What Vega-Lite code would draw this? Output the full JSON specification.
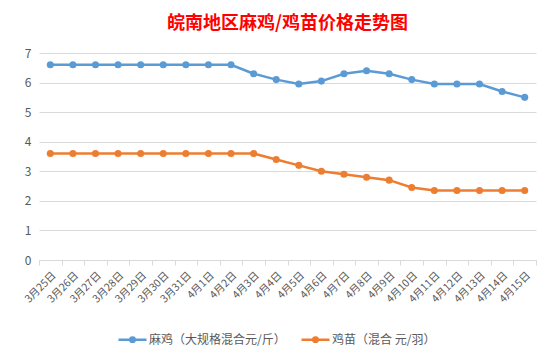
{
  "$schema": "https://vega.github.io/schema/vega-lite/v6.json",
  "width": 497,
  "height": 207,
  "autosize": "none",
  "padding": {"left": 39, "top": 53, "right": 16, "bottom": 91},
  "background": "white",
  "title": {
    "text": "皖南地区麻鸡/鸡苗价格走势图",
    "font": "Noto Sans CJK SC",
    "fontSize": 18,
    "fontWeight": "bold",
    "color": "#FF0000",
    "anchor": "middle",
    "offset": 14
  },
  "data": {
    "values": [
      {"date": "3月25日", "series": "麻鸡（大规格混合元/斤）", "value": 6.6},
      {"date": "3月26日", "series": "麻鸡（大规格混合元/斤）", "value": 6.6},
      {"date": "3月27日", "series": "麻鸡（大规格混合元/斤）", "value": 6.6},
      {"date": "3月28日", "series": "麻鸡（大规格混合元/斤）", "value": 6.6},
      {"date": "3月29日", "series": "麻鸡（大规格混合元/斤）", "value": 6.6},
      {"date": "3月30日", "series": "麻鸡（大规格混合元/斤）", "value": 6.6},
      {"date": "3月31日", "series": "麻鸡（大规格混合元/斤）", "value": 6.6},
      {"date": "4月1日", "series": "麻鸡（大规格混合元/斤）", "value": 6.6},
      {"date": "4月2日", "series": "麻鸡（大规格混合元/斤）", "value": 6.6},
      {"date": "4月3日", "series": "麻鸡（大规格混合元/斤）", "value": 6.3},
      {"date": "4月4日", "series": "麻鸡（大规格混合元/斤）", "value": 6.1},
      {"date": "4月5日", "series": "麻鸡（大规格混合元/斤）", "value": 5.95},
      {"date": "4月6日", "series": "麻鸡（大规格混合元/斤）", "value": 6.05},
      {"date": "4月7日", "series": "麻鸡（大规格混合元/斤）", "value": 6.3},
      {"date": "4月8日", "series": "麻鸡（大规格混合元/斤）", "value": 6.4},
      {"date": "4月9日", "series": "麻鸡（大规格混合元/斤）", "value": 6.3},
      {"date": "4月10日", "series": "麻鸡（大规格混合元/斤）", "value": 6.1},
      {"date": "4月11日", "series": "麻鸡（大规格混合元/斤）", "value": 5.95},
      {"date": "4月12日", "series": "麻鸡（大规格混合元/斤）", "value": 5.95},
      {"date": "4月13日", "series": "麻鸡（大规格混合元/斤）", "value": 5.95},
      {"date": "4月14日", "series": "麻鸡（大规格混合元/斤）", "value": 5.7},
      {"date": "4月15日", "series": "麻鸡（大规格混合元/斤）", "value": 5.5},
      {"date": "3月25日", "series": "鸡苗（混合 元/羽）", "value": 3.6},
      {"date": "3月26日", "series": "鸡苗（混合 元/羽）", "value": 3.6},
      {"date": "3月27日", "series": "鸡苗（混合 元/羽）", "value": 3.6},
      {"date": "3月28日", "series": "鸡苗（混合 元/羽）", "value": 3.6},
      {"date": "3月29日", "series": "鸡苗（混合 元/羽）", "value": 3.6},
      {"date": "3月30日", "series": "鸡苗（混合 元/羽）", "value": 3.6},
      {"date": "3月31日", "series": "鸡苗（混合 元/羽）", "value": 3.6},
      {"date": "4月1日", "series": "鸡苗（混合 元/羽）", "value": 3.6},
      {"date": "4月2日", "series": "鸡苗（混合 元/羽）", "value": 3.6},
      {"date": "4月3日", "series": "鸡苗（混合 元/羽）", "value": 3.6},
      {"date": "4月4日", "series": "鸡苗（混合 元/羽）", "value": 3.4},
      {"date": "4月5日", "series": "鸡苗（混合 元/羽）", "value": 3.2},
      {"date": "4月6日", "series": "鸡苗（混合 元/羽）", "value": 3.0},
      {"date": "4月7日", "series": "鸡苗（混合 元/羽）", "value": 2.9},
      {"date": "4月8日", "series": "鸡苗（混合 元/羽）", "value": 2.8},
      {"date": "4月9日", "series": "鸡苗（混合 元/羽）", "value": 2.7},
      {"date": "4月10日", "series": "鸡苗（混合 元/羽）", "value": 2.45},
      {"date": "4月11日", "series": "鸡苗（混合 元/羽）", "value": 2.35},
      {"date": "4月12日", "series": "鸡苗（混合 元/羽）", "value": 2.35},
      {"date": "4月13日", "series": "鸡苗（混合 元/羽）", "value": 2.35},
      {"date": "4月14日", "series": "鸡苗（混合 元/羽）", "value": 2.35},
      {"date": "4月15日", "series": "鸡苗（混合 元/羽）", "value": 2.35}
    ]
  },
  "mark": {"type": "line", "strokeWidth": 2.5, "point": {"filled": true, "size": 50}},
  "encoding": {
    "x": {
      "field": "date",
      "type": "ordinal",
      "sort": null,
      "bandPosition": 0.5,
      "scale": {"type": "band", "paddingInner": 0, "paddingOuter": 0},
      "axis": {
        "title": null,
        "labelAngle": -45,
        "labelFont": "Noto Sans CJK SC",
        "labelFontSize": 10.5,
        "labelColor": "#595959",
        "labelPadding": 5,
        "tickBand": "extent",
        "tickColor": "#D9D9D9",
        "tickSize": 5,
        "domainColor": "#D9D9D9",
        "grid": false
      }
    },
    "y": {
      "field": "value",
      "type": "quantitative",
      "scale": {"domain": [0, 7], "nice": false},
      "axis": {
        "title": null,
        "values": [0, 1, 2, 3, 4, 5, 6, 7],
        "labelFont": "Noto Sans CJK SC",
        "labelFontSize": 12,
        "labelColor": "#595959",
        "labelPadding": 8,
        "ticks": false,
        "domain": false,
        "gridColor": "#D9D9D9",
        "gridWidth": 1
      }
    },
    "color": {
      "field": "series",
      "type": "nominal",
      "sort": null,
      "scale": {
        "domain": ["麻鸡（大规格混合元/斤）", "鸡苗（混合 元/羽）"],
        "range": ["#5B9BD5", "#ED7D31"]
      },
      "legend": {
        "title": null,
        "orient": "none",
        "direction": "horizontal",
        "legendX": 78,
        "legendY": 271,
        "labelFont": "Noto Sans CJK SC",
        "labelFontSize": 12,
        "labelColor": "#595959",
        "labelOffset": 1,
        "columnPadding": 10,
        "symbolType": "M-1,0H1M-0.16,0a0.16,0.16 0 1,0 0.32,0a0.16,0.16 0 1,0 -0.32,0",
        "symbolSize": 784,
        "symbolStrokeWidth": 2.5
      }
    }
  },
  "config": {
    "view": {"stroke": null}
  }
}
